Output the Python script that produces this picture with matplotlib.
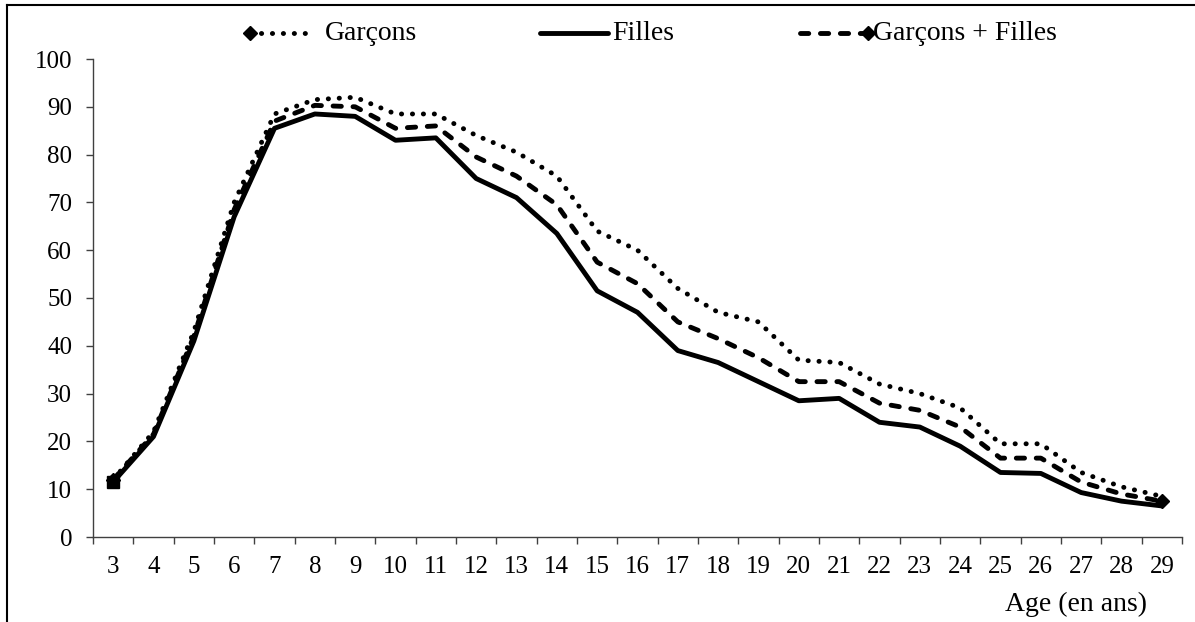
import matplotlib
matplotlib.use("Agg")
from matplotlib import pyplot as plt
from matplotlib.lines import Line2D
import numpy as np

plt.rcParams['font.family'] = ['Liberation Serif', 'DejaVu Serif']

# ages (categories)
ages = list(range(3, 30))

garcons = [12, 22, 43, 70, 88.5, 91.5, 92, 88.5, 88.5, 84, 80.5, 75.5, 64, 60,
           52, 47, 45, 37, 36.5, 32, 30, 27, 19.5, 19.5, 13.5, 10.5, 8.5]
filles = [11.5, 21, 41, 67, 85.5, 88.5, 88, 83, 83.5, 75, 71, 63.5, 51.5, 47,
          39, 36.5, 32.5, 28.5, 29, 24, 23, 19, 13.5, 13.3, 9.3, 7.5, 6.5]
ensemble = [12, 21.5, 42, 68.5, 87, 90.3, 90, 85.5, 86, 79.5, 75.5, 69.5, 57.5, 53,
            45, 41.5, 37.5, 32.5, 32.5, 28, 26.5, 23, 16.5, 16.5, 11.5, 9, 7.5]

labels = ["Garçons", "Filles", "Garçons + Filles"]
yticks = list(range(0, 101, 10))

W, H = 1195, 622
fig = plt.figure(figsize=(W / 100, H / 100), dpi=100)
ax = fig.add_axes([93 / W, (H - 537) / H, (1182 - 93) / W, (537 - 59) / H])

x = np.arange(len(ages))
lw = 3.5
dot = (0, (0.05, 2.2))
dash = (0, (1.7, 2.4))

ax.plot(x, garcons, color='black', lw=lw, linestyle=dot, dash_capstyle='round',
        marker='D', markersize=7, markevery=[0], zorder=3)
ax.plot(x, ensemble, color='black', lw=lw, linestyle=dash, dash_capstyle='round',
        marker='D', markersize=7.5, markevery=[len(x) - 1], zorder=4)
ax.plot(x, filles, color='black', lw=lw, solid_capstyle='round',
        marker='s', markersize=9, markevery=[0], zorder=5)

ax.set_xlim(-0.5, len(ages) - 0.5)
ax.set_ylim(0, 100)
ax.set_yticks(yticks)
ax.set_xticks(np.arange(-0.5, len(ages), 1.0))
ax.set_xticklabels([])
ax.set_xticks(x, minor=True)
ax.set_xticklabels([str(a) for a in ages], minor=True)

for s in ['top', 'right']:
    ax.spines[s].set_visible(False)
for s in ['left', 'bottom']:
    ax.spines[s].set_color('#404040')
    ax.spines[s].set_linewidth(1.0)

ax.tick_params(axis='y', which='major', length=5, width=1, color='#404040',
               labelsize=18, pad=10)
ax.tick_params(axis='x', which='major', length=5, width=1, color='#404040')
ax.tick_params(axis='x', which='minor', length=0, labelsize=18, pad=14)

fig.text(1147 / W, (H - 604) / H, "Age (en ans)", ha='right', va='center', fontsize=20)

# manual legend (Excel-like layout)
def fx(px):
    return px / W

def fy(py):
    return (H - py) / H

ly = 33
fig.add_artist(Line2D([fx(250), fx(312)], [fy(ly), fy(ly)], color='black', lw=lw,
                      linestyle=dot, dash_capstyle='round'))
fig.add_artist(Line2D([fx(250)], [fy(ly)], color='black', marker='D', markersize=7))
fig.text(fx(325), fy(ly), labels[0], ha='left', va='center', fontsize=20)

fig.add_artist(Line2D([fx(540), fx(608)], [fy(ly), fy(ly)], color='black', lw=lw,
                      solid_capstyle='round'))
fig.text(fx(612), fy(ly), labels[1], ha='left', va='center', fontsize=20)

fig.add_artist(Line2D([fx(800), fx(866)], [fy(ly), fy(ly)], color='black', lw=lw,
                      linestyle=dash, dash_capstyle='round'))
fig.add_artist(Line2D([fx(868)], [fy(ly)], color='black', marker='D', markersize=7))
fig.text(fx(873), fy(ly), labels[2], ha='left', va='center', fontsize=20)

# outer frame (top and left edges)
fig.add_artist(Line2D([fx(7), 1.0], [fy(5), fy(5)], color='black', lw=1.5))
fig.add_artist(Line2D([fx(7), fx(7)], [fy(5), 0.0], color='black', lw=1.5))

fig.savefig("out.png", dpi=100)
